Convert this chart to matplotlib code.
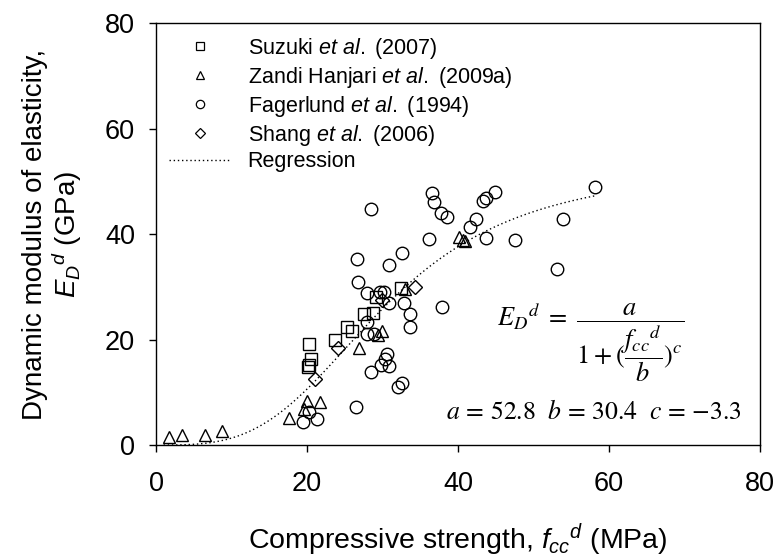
import matplotlib
matplotlib.use("Agg")
import matplotlib.pyplot as plt
import numpy as np
from matplotlib.lines import Line2D

plt.rcParams["font.family"] = ["Liberation Sans", "DejaVu Sans"]
plt.rcParams["mathtext.fontset"] = "custom"
plt.rcParams["mathtext.rm"] = "Liberation Sans"
plt.rcParams["mathtext.it"] = "Liberation Sans:italic"
plt.rcParams["mathtext.bf"] = "Liberation Sans:bold"

# Suzuki et al. (2007)
suzuki_x = [20.3, 20.5, 20.1, 20.2, 23.7, 25.3, 25.9, 27.6, 28.8, 29.1, 32.5]
suzuki_y = [19.1, 16.3, 14.8, 15.1, 19.9, 22.4, 21.6, 24.8, 25.0, 28.0, 29.8]

# Zandi Hanjari et al. (2009a)
zandi_x = [1.7, 3.4, 6.5, 8.7, 17.6, 19.6, 20.0, 21.7, 26.9, 29.4, 29.9, 33.0, 40.1, 40.7, 40.9]
zandi_y = [1.5, 1.9, 1.9, 2.7, 5.1, 6.8, 8.3, 8.2, 18.3, 20.8, 21.6, 29.6, 39.4, 38.9, 38.6]

# Fagerlund et al. (1994)
fager_x = [19.5, 21.3, 20.3, 26.5, 28.5, 29.8, 30.9, 30.3, 30.6, 32.0, 32.6, 27.9, 28.9,
           27.9, 27.9, 29.7, 30.2, 30.9, 32.8, 33.6, 33.6, 37.9, 26.8, 26.6, 30.9, 32.6,
           28.5, 36.1, 36.6, 36.8, 37.7, 38.5, 41.6, 42.4, 43.3, 43.7, 44.9, 43.7, 47.5,
           53.1, 53.9, 58.1]
fager_y = [4.4, 4.9, 6.3, 7.2, 13.8, 15.2, 15.0, 16.3, 17.3, 11.0, 11.8, 21.0, 21.0,
           23.3, 28.9, 29.1, 29.0, 26.9, 26.9, 24.8, 22.4, 26.2, 30.9, 35.2, 34.2, 36.4,
           44.7, 39.1, 47.8, 46.1, 44.0, 43.2, 41.3, 42.8, 46.3, 46.8, 48.0, 39.2, 38.9,
           33.4, 42.8, 48.9]

# Shang et al. (2006)
shang_x = [21.1, 24.1, 29.9, 34.3]
shang_y = [12.5, 18.4, 27.4, 30.0]

# Regression parameters
a_par, b_par, c_par = 52.8, 30.4, -3.3
reg_x_min, reg_x_max = 1.0, 58.1

fig = plt.figure(figsize=(7.77, 5.56), dpi=100)
ax = fig.add_axes([0.2008, 0.1996, 0.7772, 0.759])

mk = dict(linestyle="none", markerfacecolor="none", markeredgecolor="black",
          markeredgewidth=1.0)
ax.plot(suzuki_x, suzuki_y, marker="s", markersize=8, **mk)
ax.plot(zandi_x, zandi_y, marker="^", markersize=9, **mk)
ax.plot(fager_x, fager_y, marker="o", markersize=9, **mk)
ax.plot(shang_x, shang_y, marker="D", markersize=7, **mk)

xr = np.linspace(reg_x_min, reg_x_max, 300)
yr = a_par / (1 + (xr / b_par) ** c_par)
ax.plot(xr, yr, color="black", linestyle=(0, (1, 2)), linewidth=1.0)

ax.set_xlim(0, 80)
ax.set_ylim(0, 80)
ax.set_xticks([0, 20, 40, 60, 80])
ax.set_yticks([0, 20, 40, 60, 80])
ax.tick_params(direction="out", length=5, width=1, labelsize=19.5,
               top=False, right=False)
ax.tick_params(axis="x", pad=14)
ax.tick_params(axis="y", pad=10)
for s in ax.spines.values():
    s.set_linewidth(1.0)

ax.set_xlabel(r"Compressive strength, $f_{cc}{}^{d}$ (MPa)", fontsize=20.5, labelpad=17)
ax.set_ylabel("Dynamic modulus of elasticity,\n" + r"$E_{D}{}^{d}$ (GPa)",
              fontsize=20, labelpad=15, linespacing=1.05)

lk = dict(linestyle="none", markerfacecolor="none", markeredgecolor="black",
          markeredgewidth=0.9)
handles = [
    Line2D([], [], marker="s", markersize=5.5, **lk),
    Line2D([], [], marker="^", markersize=6, **lk),
    Line2D([], [], marker="o", markersize=6, **lk),
    Line2D([], [], marker="D", markersize=5, **lk),
    Line2D([], [], color="black", linestyle=(0, (1, 2)), linewidth=1.0),
]
labels = [
    r"Suzuki $et\ al.$ (2007)",
    r"Zandi Hanjari $et\ al.$ (2009a)",
    r"Fagerlund $et\ al.$ (1994)",
    r"Shang $et\ al.$ (2006)",
    "Regression",
]
ax.legend(handles, labels, loc="upper left", frameon=False, fontsize=15.5,
          handlelength=2.9, handletextpad=0.75, labelspacing=0.18,
          borderaxespad=0.3, borderpad=0.3)

ax.text(0.565, 0.245,
        r"$E_D{}^{d}\ =\ \dfrac{a}{1+(\dfrac{f_{cc}{}^{d}}{b})^{c}}$",
        transform=ax.transAxes, fontsize=19, math_fontfamily="stix",
        ha="left", va="center")
ax.text(0.97, 0.078,
        r"$a\,=\,52.8\ \ b\,=\,30.4\ \ c\,=\,{-}3.3$",
        transform=ax.transAxes, fontsize=18.5, math_fontfamily="stix",
        ha="right", va="center")

fig.savefig("out.png", dpi=100)
